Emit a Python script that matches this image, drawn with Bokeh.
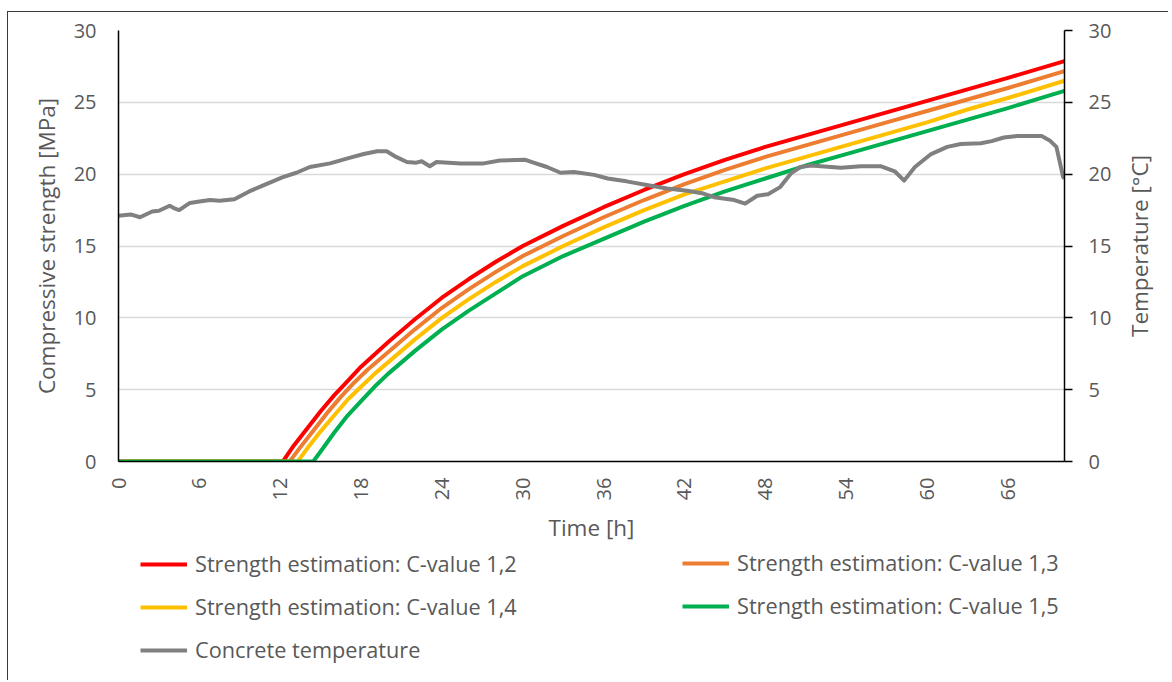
import math
from bokeh.plotting import figure
from bokeh.layouts import column, row
from bokeh.models import Range1d, LinearAxis, FixedTicker, Legend, LegendItem
from bokeh.embed import file_html
from bokeh.resources import INLINE

# ---------------- data ----------------
x_ticks = [0, 6, 12, 18, 24, 30, 36, 42, 48, 54, 60, 66]
y_ticks = [0, 5, 10, 15, 20, 25, 30]

labels = ["Strength estimation: C-value 1,2",
          "Strength estimation: C-value 1,3",
          "Strength estimation: C-value 1,4",
          "Strength estimation: C-value 1,5",
          "Concrete temperature"]
colors = ["#ff0000", "#ed7d31", "#ffc000", "#00b050", "#808080"]

red_t = [0, 12.2, 13, 14, 15, 16, 17, 18, 20, 22, 24, 26, 28, 30, 33, 36, 39, 42, 45, 48, 51, 54, 57, 60, 63, 66, 70.2]
red_v = [0, 0, 1.1, 2.3, 3.5, 4.6, 5.6, 6.6, 8.3, 9.9, 11.4, 12.7, 13.9, 15.0, 16.4, 17.7, 18.9, 20.0, 21.0, 21.9, 22.7, 23.5, 24.3, 25.1, 25.9, 26.7, 27.87]

orange_t = [0, 12.7, 13.5, 14.5, 15.5, 16.5, 17.5, 18.5, 20, 22, 24, 26, 28, 30, 33, 36, 39, 42, 45, 48, 51, 54, 57, 60, 63, 66, 70.2]
orange_v = [0, 0, 1.0, 2.2, 3.4, 4.5, 5.5, 6.4, 7.6, 9.2, 10.7, 12.0, 13.2, 14.3, 15.7, 17.0, 18.2, 19.3, 20.3, 21.2, 22.0, 22.8, 23.6, 24.4, 25.2, 26.0, 27.17]

yellow_t = [0, 13.3, 14, 15, 16, 17, 18, 19, 20, 22, 24, 26, 28, 30, 33, 36, 39, 42, 45, 48, 51, 54, 57, 60, 63, 66, 70.2]
yellow_v = [0, 0, 0.9, 2.1, 3.2, 4.3, 5.2, 6.1, 6.9, 8.5, 10.0, 11.3, 12.5, 13.6, 15.0, 16.3, 17.5, 18.6, 19.5, 20.4, 21.2, 22.0, 22.8, 23.6, 24.5, 25.3, 26.5]

green_t = [0, 14.45, 15, 16, 17, 18, 19, 20, 22, 24, 26, 28, 30, 33, 36, 39, 42, 45, 48, 51, 54, 57, 60, 63, 66, 70.2]
green_v = [0, 0, 0.7, 2.0, 3.2, 4.2, 5.2, 6.1, 7.7, 9.2, 10.5, 11.7, 12.9, 14.3, 15.5, 16.7, 17.8, 18.8, 19.7, 20.6, 21.4, 22.2, 23.0, 23.8, 24.6, 25.8]

temp_t = [0, 0.9, 1.6, 2.5, 3.0, 3.8, 4.2, 4.5, 5.3, 6.0, 6.8, 7.5, 8.6, 9.7, 10.7, 12.2, 13.2, 14.2,
          15.7, 17.2, 18.2, 19.2, 19.9, 20.6, 21.4, 22.1, 22.5, 23.1, 23.6, 25.4, 27.1, 28.3, 30.2,
          30.8, 31.8, 32.8, 33.8, 35.3, 36.3, 37.7, 39.2, 40.7, 42.2, 43.4, 44.2, 45.7, 46.5, 47.4,
          48.2, 49.1, 49.9, 50.6, 51.4, 53.6, 55.1, 56.6, 57.6, 58.3, 59.1, 60.3, 61.5, 62.5, 64.0,
          64.8, 65.7, 66.7, 68.5, 69.1, 69.6, 70.1, 70.2]
temp_v = [17.1, 17.2, 17.0, 17.4, 17.45, 17.8, 17.6, 17.5, 18.0, 18.1, 18.2, 18.15, 18.25, 18.8, 19.2,
          19.8, 20.1, 20.5, 20.75, 21.15, 21.4, 21.6, 21.6, 21.2, 20.85, 20.8, 20.9, 20.55, 20.85,
          20.75, 20.75, 20.95, 21.0, 20.8, 20.5, 20.1, 20.15, 19.95, 19.7, 19.5, 19.25, 19.0, 18.85,
          18.65, 18.4, 18.2, 17.95, 18.5, 18.6, 19.1, 20.05, 20.5, 20.6, 20.45, 20.55, 20.55, 20.2,
          19.55, 20.5, 21.4, 21.9, 22.1, 22.15, 22.3, 22.55, 22.65, 22.65, 22.35, 21.9, 19.8, 19.7]

series = [(red_t, red_v), (orange_t, orange_v), (yellow_t, yellow_v), (green_t, green_v), (temp_t, temp_v)]

# ---------------- styling ----------------
TXT = "#595959"
FONT = "Open Sans"
W = 1160
WP = 1114
H = 534
LW = 4

p = figure(width=WP, height=H, output_backend="svg", toolbar_location=None,
           x_range=Range1d(0, 70.2), y_range=Range1d(0, 30),
           min_border_left=110, min_border_right=WP - 1056, min_border_top=18, min_border_bottom=84)
p.extra_y_ranges = {"temp": Range1d(0, 30)}
p.outline_line_color = None
p.background_fill_color = "white"
p.border_fill_color = "white"

p.xgrid.visible = False
p.ygrid.ticker = FixedTicker(ticks=y_ticks)
p.ygrid.grid_line_color = "#d9d9d9"
p.ygrid.grid_line_width = 1.5


def style_axis(ax, label_standoff, title_standoff, tick_out):
    ax.major_label_text_font = FONT
    ax.major_label_text_font_size = "20px"
    ax.major_label_text_color = TXT
    ax.axis_label_text_font = FONT
    ax.axis_label_text_font_size = "22.5px"
    ax.axis_label_text_font_style = "normal"
    ax.axis_label_text_color = TXT
    ax.axis_line_color = "black"
    ax.axis_line_width = 1.5
    ax.major_tick_line_color = "black"
    ax.major_tick_line_width = 1.5
    ax.major_tick_in = 0
    ax.major_tick_out = tick_out
    ax.minor_tick_line_color = None
    ax.major_label_standoff = label_standoff
    ax.axis_label_standoff = title_standoff


xa = p.xaxis[0]
xa.ticker = FixedTicker(ticks=x_ticks)
xa.axis_label = "Time [h]"
xa.major_label_orientation = math.pi / 2
style_axis(xa, 16, 9, 0)

ya = p.yaxis[0]
ya.ticker = FixedTicker(ticks=y_ticks)
ya.axis_label = "Compressive strength [MPa]"
style_axis(ya, 22, 9, 0)

# right axis: line, ticks and tick labels
ra = LinearAxis(y_range_name="temp")
ra.ticker = FixedTicker(ticks=y_ticks)
style_axis(ra, 16, 16, 8)
p.add_layout(ra, "right")

# ---------------- lines ----------------
for i, (t, v) in enumerate(series):
    kw = {"y_range_name": "temp"} if i == 4 else {}
    p.line(t, v, line_color=colors[i], line_width=LW, line_join="round", **kw)

# ---------------- right-axis title strip (reads bottom-to-top, centred on the axis) ----------------
r = figure(width=W - WP, height=H, output_backend="svg", toolbar_location=None,
           x_range=Range1d(0, 1), y_range=Range1d(0, 30),
           min_border_left=40, min_border_right=0, min_border_top=18, min_border_bottom=84)
r.xaxis.visible = False
r.grid.visible = False
r.outline_line_color = None
r.background_fill_color = "white"
r.border_fill_color = "white"
rt = r.yaxis[0]
rt.ticker = FixedTicker(ticks=[])
rt.axis_label = "Temperature [°C]"
style_axis(rt, 0, 14, 0)
rt.axis_line_color = None
rt.major_tick_line_color = None

# ---------------- legend strip (below the chart) ----------------
# the strip's ranges keep its copies of the series out of view; only the legend shows
q = figure(width=W, height=134, output_backend="svg", toolbar_location=None,
           x_range=Range1d(0, 70.2), y_range=Range1d(-200, -100),
           min_border_left=110, min_border_right=104, min_border_top=0, min_border_bottom=0)
q.xaxis.visible = False
q.yaxis.visible = False
q.grid.visible = False
q.outline_line_color = None
q.background_fill_color = "white"
q.border_fill_color = "white"

swatches = [q.line(t, v, line_color=colors[i], line_width=LW) for i, (t, v) in enumerate(series)]


def make_legend(idx, loc):
    lg = Legend(items=[LegendItem(label=labels[i], renderers=[swatches[i]]) for i in idx],
                location=loc)
    lg.label_text_font = FONT
    lg.label_text_font_size = "21.7px"
    lg.label_text_color = TXT
    lg.glyph_width = 47
    lg.glyph_height = 20
    lg.label_height = 20
    lg.spacing = 14
    lg.label_standoff = 8
    lg.padding = 0
    lg.margin = 0
    lg.border_line_color = None
    lg.background_fill_alpha = 0
    return lg


q.add_layout(make_legend([0, 2, 4], (22, 16)))
q.add_layout(make_legend([1, 3], (564, 60)))

page = column(row(p, r, spacing=0), q, spacing=0, margin=(11, 0, 0, 7),
              styles={"border-top": "1.5px solid #3a3a3a", "border-left": "1.5px solid #3a3a3a"})

open("out.html", "w").write(file_html(page, INLINE))
